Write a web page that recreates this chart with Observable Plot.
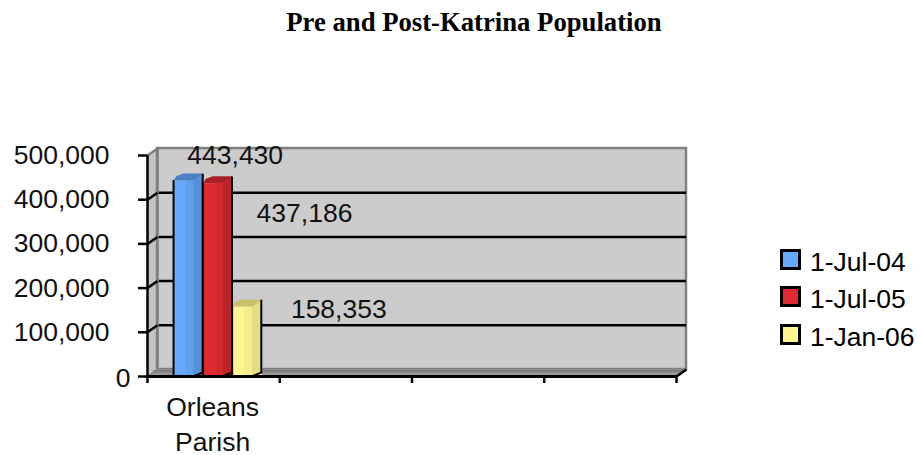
<!DOCTYPE html>
<html>
<head>
<meta charset="utf-8">
<script src="https://cdn.jsdelivr.net/npm/d3@7"></script>
<script src="https://cdn.jsdelivr.net/npm/@observablehq/plot@0.6"></script>
<style>
html,body{margin:0;padding:0;background:#fff;overflow:hidden}
#wrap{position:relative;width:917px;height:455px;font-family:"Liberation Sans",Arial,sans-serif;color:#000}
#title{height:50px;box-sizing:border-box;padding-top:8px;width:948px;text-align:center;font:bold 26.7px "Liberation Serif",serif;line-height:28px}
#chart svg{display:block}
#legend{position:absolute;left:780px;top:249px}
.row{position:relative;height:37.3px;white-space:nowrap;font-size:26.5px;line-height:22px}
.sw{position:absolute;left:0;top:0;width:21px;height:21px;box-sizing:border-box;border:3px solid #000}
.lb{position:absolute;left:30px;top:2px}
</style>
</head>
<body>
<div id="wrap">
  <div id="title"></div>
  <div id="chart"></div>
  <div id="legend"></div>
</div>
<script>
const titleText = "Pre and Post-Katrina Population";
const categories = ["Orleans Parish"];
const seriesNames = ["1-Jul-04", "1-Jul-05", "1-Jan-06"];
const seriesValues = [443430, 437186, 158353];
const yTicks = [0, 100000, 200000, 300000, 400000, 500000];
const xSlots = [0, 1, 2, 3, 4];
const faceFront = ["#66aaff", "#e02a30", "#fff58f"];
const faceMid = ["#609fee", "#d32a30", "#f6ed8a"];
const faceSide = ["#5590d8", "#b92529", "#e3dc80"];
const faceTop = ["#4a80c4", "#aa2024", "#c9c16e"];

// 3-D projection offsets, in scale units
const depthX = 0.0756, depthY = 15800;
const groupStart = 0.197, barStep = 0.2215, frontW = 0.15, midAt = 0.09;

const bars = seriesValues.map((v, i) => {
  const x0 = groupStart + i * barStep;
  return {v, i, x0, xm: x0 + midAt, x1: x0 + frontW, x2: x0 + frontW + depthX - 0.005};
});
const poly = (pts, fill, extra = {}) => Plot.line(pts, {x: "x", y: "y", fill, stroke: "none", ...extra});
const P = (x, y) => ({x, y});

const yMax = yTicks[yTicks.length - 1], xMax = xSlots[xSlots.length - 1];
const barMarks = bars.flatMap(b => [
  poly([P(b.x0, 0), P(b.x0, b.v), P(b.x1, b.v), P(b.x1, 0), P(b.x0, 0)], faceFront[b.i]),
  poly([P(b.xm, 0), P(b.xm, b.v), P(b.x2, b.v), P(b.x2, 0), P(b.xm, 0)], faceMid[b.i]),
  poly([P(b.x1, 0), P(b.x1, b.v), P(b.x2, b.v + depthY), P(b.x2, depthY), P(b.x1, 0)], faceSide[b.i]),
  poly([P(b.x0, b.v), P(b.x0 + depthX * 0.3, b.v + depthY * 0.65), P(b.x0 + depthX, b.v + depthY), P(b.x2 - depthX * 0.15, b.v + depthY), P(b.x2, b.v + depthY * 0.9), P(b.x1, b.v), P(b.x0, b.v)], faceTop[b.i]),
  Plot.ruleX([b.x0], {y1: 0, y2: b.v, stroke: "#000", strokeWidth: 2}),
  Plot.ruleX([b.x2], {y1: depthY * 0.5, y2: b.v + depthY * 0.9, stroke: "#000", strokeWidth: 2}),
  Plot.line([P(b.x1, 0), P(b.x2, depthY * 0.6)], {x: "x", y: "y", stroke: "#000", strokeWidth: 2})
]);

const valueLabel = (i, dx, dy) => Plot.text([bars[i]], {
  x: d => d.x0 + barStep / 2, y: "v", text: d => d3.format(",")(d.v),
  dx, dy, fontSize: 26.5, fill: "#111"
});

const plot = Plot.plot({
  width: 750, height: 405,
  marginLeft: 147, marginRight: 74, marginTop: 105, marginBottom: 79,
  style: {fontFamily: '"Liberation Sans", Arial, sans-serif', background: "transparent"},
  x: {type: "linear", domain: [0, xMax], axis: null},
  y: {domain: [0, yMax], axis: null},
  marks: [
    // side wall
    poly([P(0, 0), P(0, yMax), P(depthX, yMax + depthY), P(depthX, depthY), P(0, 0)], "#c4c4c4"),
    // back wall
    Plot.rect([0], {x1: depthX, x2: xMax + depthX, y1: depthY, y2: yMax + depthY, fill: "#cccccc", stroke: "#808080", strokeWidth: 2.5}),
    // gridlines
    Plot.ruleY(yTicks.slice(1, -1), {y: d => d + depthY, x1: depthX, x2: xMax + depthX, stroke: "#000", strokeWidth: 2.5}),
    // floor
    poly([P(0, 0), P(depthX, depthY), P(xMax + depthX, depthY), P(xMax, 0), P(0, 0)], "#999999"),
    Plot.ruleY([depthY * 0.75], {x1: depthX * 0.6, x2: xMax + depthX * 0.8, stroke: "#808080", strokeWidth: 2.5}),
    Plot.line([P(0, yMax), P(depthX, yMax + depthY)], {x: "x", y: "y", stroke: "#808080", strokeWidth: 2.5}),
    Plot.line([P(0, 0), P(depthX, depthY)], {x: "x", y: "y", stroke: "#808080", strokeWidth: 1.5}),
    Plot.ruleX([depthX], {y1: depthY, y2: yMax + depthY, stroke: "#808080", strokeWidth: 2.5}),
    // wall tick diagonals
    Plot.link(yTicks.slice(1, -1), {x1: 0, x2: depthX, y1: d => d, y2: d => d + depthY, stroke: "#000", strokeWidth: 2.5}),
    // right floor corner
    Plot.link([xMax], {x1: xMax, x2: xMax + depthX, y1: 0, y2: depthY, stroke: "#000", strokeWidth: 2.5}),
    ...barMarks,
    // axes
    Plot.ruleX([0], {y1: 0, y2: yMax, stroke: "#000", strokeWidth: 2.5}),
    Plot.ruleY([0], {x1: 0, x2: xMax, stroke: "#000", strokeWidth: 3}),
    Plot.axisY({ticks: yTicks, anchor: "left", tickSize: 9, tickPadding: 29, tickFormat: d => d === 0 ? "" : d3.format(",")(d), label: null, fontSize: 26.5, fill: "#111", stroke: "#000", strokeWidth: 2.5}),
    Plot.text([yTicks[0]], {x: 0, y: d => d, text: d => String(d), textAnchor: "end", dx: -17, dy: 2, fontSize: 26.5, fill: "#111"}),
    Plot.axisX({ticks: xSlots, anchor: "bottom", tickSize: 7, tickFormat: () => "", label: null, stroke: "#000", strokeWidth: 2.5}),
    // category label
    Plot.text(categories, {x: 0.5, y: 0, text: d => d.replace(" ", "\n"), lineAnchor: "top", dy: 14, dx: -1, lineHeight: 1.34, fontSize: 26.5, fill: "#111"}),
    // data labels
    valueLabel(0, 47, -25),
    valueLabel(1, 87, 30),
    valueLabel(2, 92, 3)
  ]
});
document.getElementById("chart").appendChild(plot);
document.getElementById("title").textContent = titleText;
const legend = document.getElementById("legend");
seriesNames.forEach((n, i) => {
  const r = document.createElement("div"); r.className = "row";
  const s = document.createElement("div"); s.className = "sw"; s.style.background = faceFront[i];
  const t = document.createElement("div"); t.className = "lb"; t.textContent = n;
  r.append(s, t); legend.append(r);
});
</script>
</body>
</html>
